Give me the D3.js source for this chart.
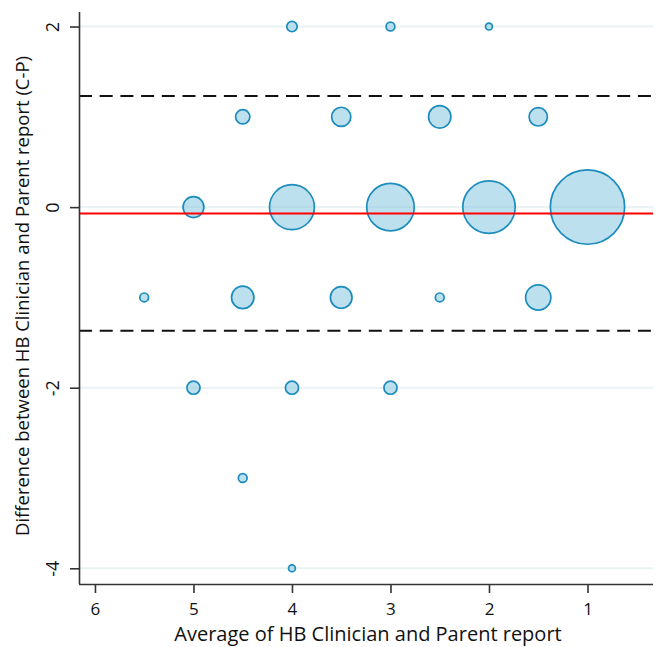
<!DOCTYPE html>
<html><head><meta charset="utf-8">
<script src="https://cdn.jsdelivr.net/npm/d3@7"></script>
<style>body{margin:0;background:#fff}svg{display:block}text{font-family:"Open Sans",sans-serif;fill:#111}</style>
</head><body><div id="chart"></div>
<script>
// Bland-Altman style bubble data: average (x), difference (y), count (n)
const avgValues  = [4, 3, 2, 4.5, 3.5, 2.5, 1.5, 5, 4, 3, 2, 1, 5.5, 4.5, 3.5, 2.5, 1.5, 5, 4, 3, 4.5, 4];
const diffValues = [2, 2, 2, 1, 1, 1, 1, 0, 0, 0, 0, 0, -1, -1, -1, -1, -1, -2, -2, -2, -3, -4];
const counts     = [4, 3, 2, 7, 12, 16, 11, 14, 60, 67, 81, 160, 3, 16, 15, 3, 20, 6, 6, 6, 3, 2];
const xTicks = [6, 5, 4, 3, 2, 1];
const yTicks = [2, 0, -2, -4];
const meanDiff = -0.07;
const upperLoA = 1.23;
const lowerLoA = -1.37;
const xTitle = "Average of HB Clinician and Parent report";
const yTitle = "Difference between HB Clinician and Parent report (C-P)";

const W = 664, H = 647;
const L = 79, R = 653, T = 12, B = 584;
const svg = d3.select("#chart").append("svg").attr("width", W).attr("height", H);

const x = d3.scaleLinear().domain([6.162, 0.335]).range([L, R]);
const y = d3.scaleLinear().domain([2.161, -4.174]).range([T, B]);
const rScale = d3.scaleSqrt().domain([0, 1]).range([0, 3]);

// grid lines
svg.append("g").selectAll("line").data(yTicks).join("line")
  .attr("x1", L).attr("x2", R).attr("y1", d => y(d)).attr("y2", d => y(d))
  .attr("stroke", "#eaf2f4").attr("stroke-width", 2);

// mean and limits
svg.append("line").attr("x1", L).attr("x2", R).attr("y1", y(upperLoA)).attr("y2", y(upperLoA))
  .attr("stroke", "#111").attr("stroke-width", 2).attr("stroke-dasharray", "13,7.7");
svg.append("line").attr("x1", L).attr("x2", R).attr("y1", y(lowerLoA)).attr("y2", y(lowerLoA))
  .attr("stroke", "#111").attr("stroke-width", 2).attr("stroke-dasharray", "13,7.7");

const pts = avgValues.map((a, i) => ({x: a, y: diffValues[i], n: counts[i]}));
svg.append("g").selectAll("circle").data(pts).join("circle")
  .attr("cx", d => x(d.x)).attr("cy", d => y(d.y)).attr("r", d => Math.max(rScale(d.n) - 0.8, 1))
  .attr("fill", "rgba(135,198,224,0.55)").attr("stroke", "#1b8cbd").attr("stroke-width", 1.7);

svg.append("line").attr("x1", L).attr("x2", R).attr("y1", y(meanDiff)).attr("y2", y(meanDiff))
  .attr("stroke", "#ff0000").attr("stroke-width", 2);

// axes
const xAxis = svg.append("g").attr("transform", `translate(0,${B})`)
  .call(d3.axisBottom(x).tickValues(xTicks).tickSize(9).tickPadding(5).tickFormat(d3.format("d")));
const yAxis = svg.append("g").attr("transform", `translate(${L},0)`)
  .call(d3.axisLeft(y).tickValues(yTicks).tickSize(9).tickPadding(0).tickFormat(d => d < 0 ? "-" + Math.abs(d) : d));
[xAxis, yAxis].forEach(g => {
  g.select(".domain").attr("stroke", "#333").attr("stroke-width", 1.6);
  g.selectAll(".tick line").attr("stroke", "#333").attr("stroke-width", 1.6);
  g.selectAll("text").attr("font-size", 18).attr("font-family", "Open Sans").attr("fill", "#111");
});
xAxis.select(".domain").attr("d", `M${L},0.5H${R}`);
yAxis.select(".domain").attr("d", `M0.5,${T}V${B}`);
xAxis.selectAll(".tick text").attr("font-size", 17).attr("y", 31).attr("dy", 0);
yAxis.selectAll(".tick text")
  .attr("text-anchor", "middle").attr("x", null).attr("dy", null)
  .attr("transform", "translate(-20,0) rotate(-90)").attr("y", 0);

svg.append("text").attr("x", 368).attr("y", 640.5).attr("text-anchor", "middle")
  .attr("font-size", 20).text(xTitle);
svg.append("text").attr("transform", `translate(29,${(T + B) / 2 - 2}) rotate(-90)`)
  .attr("text-anchor", "middle").attr("font-size", 18.5).text(yTitle);
</script></body></html>
